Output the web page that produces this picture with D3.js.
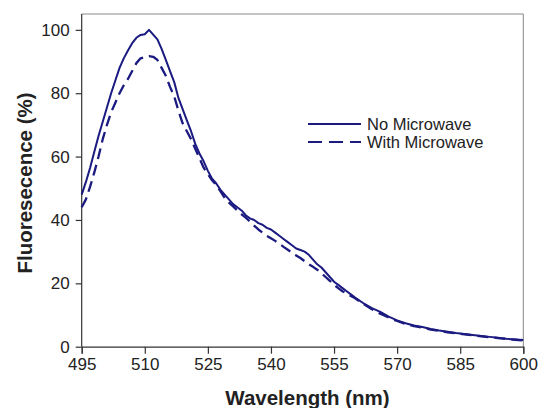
<!DOCTYPE html>
<html>
<head>
<meta charset="utf-8">
<script src="https://cdn.jsdelivr.net/npm/d3@7"></script>
<style>
  body { margin: 0; background: #fff; }
  text { font-family: "Liberation Sans", Arial, sans-serif; fill: #222; }
</style>
</head>
<body>
<svg id="chart"></svg>
<script>
// wavelength (nm)
const wavelengths = [
  495,496,497,498,499,500,501,502,503,504,505,506,507,508,509,510,
  511,512,513,514,515,516,517,518,519,520,521,522,523,524,525,526,
  527,528,529,530,531,532,533,534,535,536,537,538,539,540,541,542,
  543,544,545,546,547,548,549,550,551,552,553,554,555,556,557,558,
  559,560,562,564,566,568,570,572,574,576,578,580,582,584,586,588,
  590,592,594,596,598,600
];

const noMicrowave = [
  48,52,56.5,61.5,66.5,71,75.5,80,84,88,91,93.5,95.8,97.5,98.4,98.6,
  100,98.5,97,94,90.5,87,83.5,78.5,75,71.4,68,64,61,58.5,55.5,53,
  51.5,49.5,48,46.5,45,44,43,41.5,40.5,40,39,38.5,37.5,37,36,35,
  34,33,32,31,30.5,30,29,27.5,26,25,23.5,22,20.5,19.5,18.5,17.5,
  16.5,15.5,13.7,12.2,11,9.5,8.3,7.4,6.7,6.2,5.6,5.1,4.7,4.3,4.0,3.7,
  3.4,3.1,2.8,2.5,2.3,2.1
];

const withMicrowave = [
  44,46.5,50.5,55,60,65.5,70,74,77,80,82.5,84.5,87,89.5,91,91.4,
  91.7,91.5,90.5,88,85.5,82,79,74.5,70.5,68,65.5,62.5,59.5,56.5,54.5,52.5,
  51,49,47,45.5,44.3,43,41.8,40.7,39.5,38.2,37,36,35,34.2,33.4,32.5,
  31.5,30.6,29.7,28.8,28,27,26,25.2,24.3,23.2,22,20.8,19.5,18.5,17.5,16.8,
  16,15.3,13.5,11.8,10.4,9.2,8.1,7.2,6.5,6,5.4,5,4.5,4.2,3.9,3.6,
  3.3,3,2.7,2.4,2.2,2
];

const xTicks = [495, 510, 525, 540, 555, 570, 585, 600];
const yTicks = [0, 20, 40, 60, 80, 100];

const series = [
  { name: "No Microwave", values: noMicrowave, dash: null },
  { name: "With Microwave", values: withMicrowave, dash: "11,6" }
];

const W = 542, H = 408;
const pLeft = 81.7, pRight = 523.3, pTop = 14, pBottom = 346.7;
const color = "#1a1a80";

const svg = d3.select("#chart").attr("width", W).attr("height", H);

const x = d3.scaleLinear().domain([495, 600]).range([pLeft, pRight]);
const y = d3.scaleLinear().domain([0, 105]).range([pBottom, pTop]);

// frame top + right
svg.append("path")
  .attr("d", `M${pLeft},${pTop}H${pRight}V${pBottom}`)
  .attr("fill", "none")
  .attr("stroke", "#888")
  .attr("stroke-width", 1);

const xAxis = svg.append("g")
  .attr("transform", `translate(0,${pBottom})`)
  .call(d3.axisBottom(x).tickValues(xTicks).tickSize(7).tickPadding(4));
const yAxis = svg.append("g")
  .attr("transform", `translate(${pLeft},0)`)
  .call(d3.axisLeft(y).tickValues(yTicks).tickSize(6).tickPadding(6));

[xAxis, yAxis].forEach(a => {
  a.select(".domain").attr("stroke", "#333").attr("stroke-width", 1.2);
  a.selectAll(".tick line").attr("stroke", "#333").attr("stroke-width", 1.2);
  a.selectAll("text")
    .style("font-family", "'Liberation Sans', Arial, sans-serif")
    .style("font-size", "17px")
    .attr("fill", "#222");
});
yAxis.select(".domain").attr("d", `M0,${pBottom}V${pTop}`);

const line = d3.line()
  .x((d, i) => x(wavelengths[i]))
  .y(d => y(d));

series.forEach(s => {
  svg.append("path")
    .datum(s.values)
    .attr("d", line)
    .attr("fill", "none")
    .attr("stroke", color)
    .attr("stroke-width", s.dash ? 2.3 : 2)
    .attr("stroke-linejoin", "round")
    .attr("stroke-dasharray", s.dash);
});

// legend
const legend = svg.append("g").attr("transform", "translate(308,124)");
series.forEach((s, i) => {
  const g = legend.append("g").attr("transform", `translate(0,${i * 18})`);
  g.append("line")
    .attr("x1", 0).attr("x2", 53)
    .attr("stroke", color)
    .attr("stroke-width", 2)
    .attr("stroke-dasharray", s.dash ? "14,7" : null);
  g.append("text")
    .attr("x", 59).attr("y", 5.5)
    .style("font-size", "16.5px")
    .text(s.name);
});

// axis titles
svg.append("text")
  .attr("x", (pLeft + pRight) / 2 + 5)
  .attr("y", 405)
  .attr("text-anchor", "middle")
  .style("font-size", "20.5px")
  .style("font-weight", "bold")
  .text("Wavelength (nm)");

svg.append("text")
  .attr("transform", "translate(32,183) rotate(-90)")
  .attr("text-anchor", "middle")
  .style("font-size", "20.5px")
  .style("font-weight", "bold")
  .text("Fluoresecence (%)");
</script>
</body>
</html>
